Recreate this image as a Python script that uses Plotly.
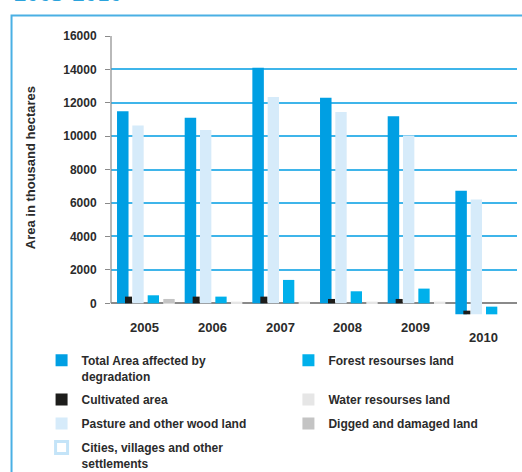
import plotly.graph_objects as go

# ---- data (thousand hectares) ----
years = ["2005", "2006", "2007", "2008", "2009", "2010"]
bar_base = [0, 0, 0, 0, 0, -660]
total_area = [11500, 11100, 14100, 12300, 11200, 7400]
cultivated = [400, 400, 400, 260, 260, 220]
pasture = [10650, 10370, 12350, 11450, 10050, 6880]
cities = [None, None, None, None, None, None]
forest = [480, 400, 1400, 720, 880, 460]
water = [100, 100, 100, 100, 100, 0]
digged = [260, 0, 0, 0, 0, 0]
y_ticks = [0, 2000, 4000, 6000, 8000, 10000, 12000, 14000, 16000]

FONT = "Liberation Sans"
TXT = "#2b2b2b"

series = [
    # name, values, colour, offset, width, legend, rank, line colour, line width
    ("Total Area affected by<br>degradation", total_area, "#009fe3", -0.411, 0.170, "legend", 1, None, 0),
    ("Pasture and other wood land", pasture, "#d6ebfa", -0.185, 0.168, "legend", 3, None, 0),
    ("Cultivated area", cultivated, "#1d1d1b", -0.293, 0.103, "legend", 2, None, 0),
    ("Cities, villages and other<br>settlements", cities, "#ffffff", 0.042, 0.167, "legend", 4, "#c4e4f8", 3),
    ("Forest resourses land<br> ", forest, "#00b0eb", 0.042, 0.167, "legend2", 1, None, 0),
    ("Water resourses land", water, "#e6e6e6", 0.273, 0.168, "legend2", 2, None, 0),
    ("Digged and damaged land", digged, "#c4c4c4", 0.273, 0.168, "legend2", 3, None, 0),
]

fig = go.Figure()
for i, (name, vals, col, off, w, leg, rank, lc, lw) in enumerate(series):
    fig.add_trace(go.Bar(
        x=years, y=vals, base=bar_base, name=f"<b>{name}</b>",
        offset=off, width=w,
        marker=dict(color=col, line=dict(color=lc or col, width=lw)),
        legend=leg, legendrank=rank, legendgroup=f"g{i}",
    ))

# year labels under the zero line (positioned by category index on the x axis)
label_drop = {"2010": 10}
for idx, yr in enumerate(years):
    fig.add_annotation(x=idx, y=0, xref="x", yref="y", text=f"<b>{yr}</b>",
                       showarrow=False, yanchor="middle",
                       yshift=-24 - label_drop.get(yr, 0),
                       font=dict(family=FONT, size=13, color=TXT))

# y axis title
fig.add_annotation(x=-0.1995, y=0.526, xref="paper", yref="paper",
                   text="<b>Area in thousand hectares</b>", textangle=-90,
                   showarrow=False, xanchor="center", yanchor="middle",
                   font=dict(family=FONT, size=13, color=TXT))

# title fragment at the top (cut off by the page edge, as in the source)
fig.add_annotation(x=-0.245, y=1.099, xref="paper", yref="paper", text="<b>2005-2010</b>",
                   showarrow=False, xanchor="left", yanchor="bottom",
                   font=dict(family="Liberation Serif", size=25, color="#2ba3dc"))

# frame and y axis line
fig.add_shape(type="rect", xref="paper", yref="paper", x0=-0.245, x1=1.05, y0=-0.6, y1=1.0736,
              line=dict(color="#4ab0e4", width=2), fillcolor="rgba(0,0,0,0)", layer="below")
fig.add_shape(type="line", xref="paper", yref="y", x0=0, x1=0, y0=0, y1=16000,
              line=dict(color="#8a8a8a", width=1.2))

legend_common = dict(xref="paper", yref="paper", y=-0.111, xanchor="left", yanchor="top",
                     orientation="v", valign="top", tracegroupgap=5,
                     bgcolor="rgba(0,0,0,0)", font=dict(family=FONT, size=12, color=TXT))

fig.update_layout(
    width=522, height=472,
    margin=dict(l=111, r=5, t=36, b=157, autoexpand=False),
    paper_bgcolor="white", plot_bgcolor="white",
    barmode="overlay",
    showlegend=True,
    xaxis=dict(type="category", range=[-0.5, 5.5], showgrid=False, zeroline=False,
               showline=False, showticklabels=False, ticks=""),
    yaxis=dict(range=[-700, 16000], tickvals=y_ticks, ticktext=[f"<b>{v}</b>" for v in y_ticks],
               ticks="outside", ticklen=5, tickcolor="#8a8a8a", tickwidth=1,
               ticklabelstandoff=6,
               showgrid=True, gridcolor="#3fb5ea", gridwidth=1.5,
               zeroline=True, zerolinecolor="#8a8a8a", zerolinewidth=1.5,
               showline=False,
               tickfont=dict(family=FONT, size=12, color=TXT)),
    legend=dict(x=-0.171, **legend_common),
    legend2=dict(x=0.437, **legend_common),
)

fig.write_html("out.html", config={"displayModeBar": False},
               post_script="document.body.style.margin='0';")
